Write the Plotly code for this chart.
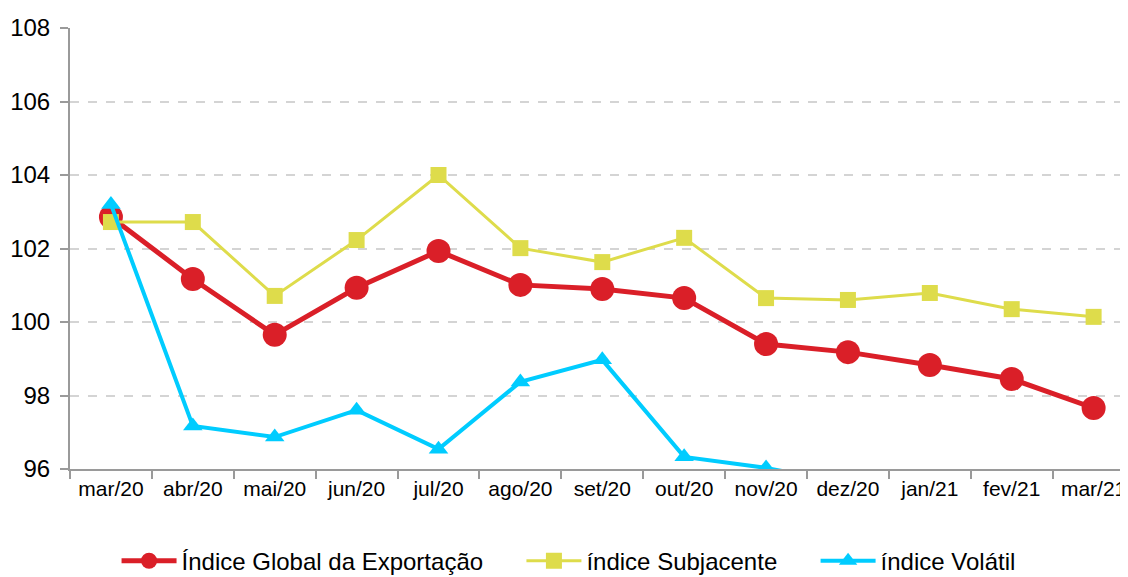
import plotly.graph_objects as go

categories = ["mar/20", "abr/20", "mai/20", "jun/20", "jul/20", "ago/20", "set/20",
              "out/20", "nov/20", "dez/20", "jan/21", "fev/21", "mar/21"]
global_idx = [102.86, 101.17, 99.65, 100.93, 101.93, 101.01, 100.9, 100.65,
              99.40, 99.18, 98.83, 98.45, 97.66]
subjacente = [102.72, 102.72, 100.71, 102.23, 104.0, 102.01, 101.63, 102.29,
              100.65, 100.60, 100.79, 100.35, 100.14]
volatil = [103.2, 97.17, 96.87, 97.6, 96.54, 98.37, 98.97, 96.33,
           96.03, 95.6, None, None, None]
y_ticks = [96, 98, 100, 102, 104, 106, 108]

names = ["Índice Global da Exportação", "índice Subjacente", "índice Volátil"]
pad = "\u00a0" * 5

fig = go.Figure()
fig.add_trace(go.Scatter(
    x=categories, y=global_idx, name=names[0] + pad, mode="lines+markers",
    line=dict(color="#DA1F28", width=5),
    marker=dict(symbol="circle", size=24, color="#DA1F28"),
))
fig.add_trace(go.Scatter(
    x=categories, y=subjacente, name=names[1] + pad, mode="lines+markers",
    line=dict(color="#DEDC4B", width=3),
    marker=dict(symbol="square", size=16, color="#DEDC4B"),
))
fig.add_trace(go.Scatter(
    x=categories, y=volatil, name=names[2], mode="lines+markers",
    line=dict(color="#00CCFF", width=4),
    marker=dict(symbol="triangle-up", size=17, color="#00CCFF"),
    connectgaps=False,
))

fig.update_layout(
    width=1120, height=569,
    margin=dict(l=62, r=0, t=20, b=108, autoexpand=False),
    paper_bgcolor="white", plot_bgcolor="white",
    font=dict(family="Liberation Sans, Arial, sans-serif", color="black"),
    showlegend=True,
    legend=dict(orientation="h", x=0.044, xanchor="left", y=-0.209, yanchor="middle",
                font=dict(size=24), itemwidth=55, bgcolor="rgba(0,0,0,0)"),
    xaxis=dict(
        type="category", categoryorder="array", categoryarray=categories,
        range=[-0.5, 12.42], automargin=False,
        showline=True, linecolor="#9a9a9a", linewidth=2,
        ticks="outside", tickson="boundaries", ticklen=8, tickcolor="#9a9a9a", tickwidth=2,
        tickfont=dict(size=21), showgrid=False, zeroline=False,
    ),
    yaxis=dict(
        range=[96, 108], tickvals=y_ticks, automargin=False,
        showline=True, linecolor="#9a9a9a", linewidth=2,
        ticks="outside", ticklen=8, tickcolor="#9a9a9a", tickwidth=2,
        tickfont=dict(size=24), ticklabelstandoff=5,
        showgrid=True, gridcolor="#d4d4d4", griddash="dash", gridwidth=1.5,
        zeroline=False,
    ),
)

fig.write_html("out.html")
